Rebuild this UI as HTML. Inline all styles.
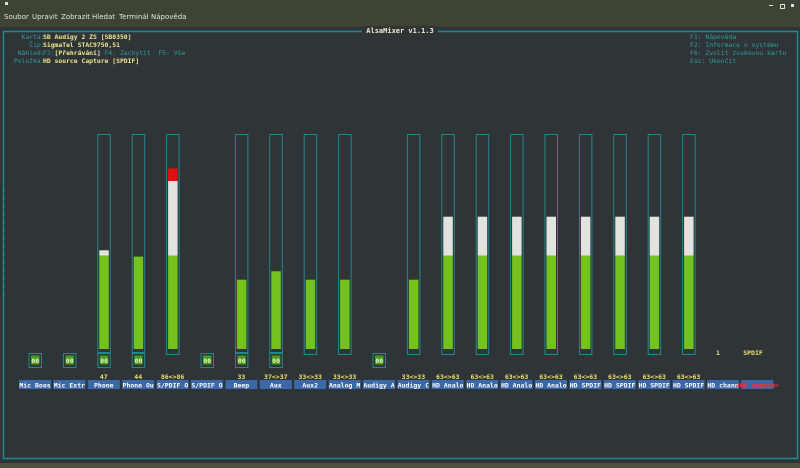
<!DOCTYPE html>
<html><head><meta charset="utf-8"><style>
body{margin:0;width:800px;height:468px;overflow:hidden;background:#4d5240;font-family:"DejaVu Sans Mono","Liberation Mono",monospace;}
#top{position:absolute;left:0;top:0;width:800px;height:27px;background:#3f4334;}
.menu{position:absolute;top:13px;font:7px "DejaVu Sans","Liberation Sans",sans-serif;color:#e4e4dc;white-space:nowrap}
#term{position:absolute;left:0;top:27px;width:800px;height:436px;background:#2f3437;}
.t{position:absolute;font-size:6.4px;line-height:8px;white-space:pre;font-weight:bold}
svg text{font-family:"DejaVu Sans Mono","Liberation Mono",monospace;}
</style></head><body>
<div id="top">
<div style="position:absolute;left:5px;top:2px;width:3px;height:3px;background:#ddd"></div>
<span class="menu" style="left:4px">Soubor</span>
<span class="menu" style="left:32px">Upravit</span>
<span class="menu" style="left:61px">Zobrazit</span>
<span class="menu" style="left:92px">Hledat</span>
<span class="menu" style="left:119px">Terminál</span>
<span class="menu" style="left:151px">Nápověda</span>
<div style="position:absolute;left:769px;top:5px;width:4px;height:1px;background:#ddd"></div>
<div style="position:absolute;left:780px;top:4px;width:3px;height:3px;border:1px solid #ddd"></div>
<div style="position:absolute;left:791px;top:4px;width:3px;height:3px;background:#ddd"></div>
</div>
<div id="term"></div>
<svg id="mix" width="800" height="468" style="position:absolute;left:0;top:0">
<rect x="3.5" y="31.5" width="794" height="427" fill="none" stroke="#1f8a8a" stroke-width="1.5"/>
<rect x="362" y="26" width="76" height="9" fill="#2f3437"/>
<text x="400" y="33" font-size="7" font-weight="bold" fill="#f0ead0" text-anchor="middle">AlsaMixer v1.1.3</text>
<g id="ticks"></g><g id="cols"></g>
</svg>
<div class="t" style="left:10px;top:33px;color:#2aa0a0;font-weight:normal">   Karta:
     Čip:
  Náhled:
 Položka:</div>
<div class="t" style="left:43px;top:33px;color:#f0e68c">SB Audigy 2 ZS [SB0350]
SigmaTel STAC9750,51
<span style="color:#2aa0a0;font-weight:normal">F3:</span>[Přehrávání]<span style="color:#2aa0a0;font-weight:normal"> F4: Zachytit  F5: Vše</span>
HD source Capture [SPDIF]</div>
<div class="t" style="left:690px;top:33px;color:#2aa0a0;font-weight:normal">F1: Nápověda
F2: Informace o systému
F6: Zvolit zvukovou kartu
Esc: Ukončit</div>
<script>
const labels=["Mic Boos","Mic Extr","Phone","Phone Ou","S/PDIF O","S/PDIF O","Beep","Aux","Aux2","Analog M","Audigy A","Audigy C","HD Analo","HD Analo","HD Analo","HD Analo","HD SPDIF","HD SPDIF","HD SPDIF","HD SPDIF","HD chann","HD source"];
const values=[null,null,47,44,86,null,33,37,33,33,null,33,63,63,63,63,63,63,63,63,null,null];
const valueText=["","","47","44","86<>86","","33","37<>37","33<>33","33<>33","","33<>33","63<>63","63<>63","63<>63","63<>63","63<>63","63<>63","63<>63","63<>63","",""];
const hasMute=[1,1,1,1,0,1,1,1,0,0,1,0,0,0,0,0,0,0,0,0,0,0];
const NS="http://www.w3.org/2000/svg";
const g=document.getElementById('cols');
const BOT=349, SCALE=2.1, GREEN=44.5, WHITE=80;
const xc=i=>35+34.4*i;
const yv=v=>BOT-v*SCALE;
function mk(t,a,p){const e=document.createElementNS(NS,t);for(const k in a)e.setAttribute(k,a[k]);(p||g).appendChild(e);return e;}
const tk=document.getElementById('ticks');
for(let y=191;y<=299;y+=8){const e=mk('rect',{x:3,y:y,width:2,height:1,fill:'#1f8a8a'},tk);

}
labels.forEach((l,i)=>{
 const c=xc(i);
 if(values[i]!==null){
  const v=values[i];
  const box=mk('rect',{x:c-6,y:134.5,width:12.5,height:(hasMute[i]?218:220),fill:'none',stroke:'#1f8a8a','stroke-width':1});
  
  
  const gEnd=Math.min(v,GREEN), wEnd=Math.min(v,WHITE);
  const gb=mk('rect',{x:c-4.5,y:yv(gEnd),width:9.5,height:gEnd*SCALE,fill:'#73c21e'});
  
  
  if(v>GREEN){const wb=mk('rect',{x:c-4.5,y:yv(wEnd),width:9.5,height:(wEnd-GREEN)*SCALE,fill:'#e2e2de'});
   
   }
  if(v>WHITE){const rb=mk('rect',{x:c-4.5,y:yv(v),width:9.5,height:(v-WHITE)*SCALE,fill:'#e01010'});
   
   }
 }
 if(hasMute[i]){
  const mb=mk('rect',{x:c-6,y:353.5,width:12.5,height:14,fill:'none',stroke:'#1f8a8a','stroke-width':1});
  
  
  const mi=mk('rect',{x:c-4,y:355.5,width:8.5,height:9,fill:'#4c9a1a'});
  
  
  const mt=mk('text',{x:c+0.3,y:363,'font-size':6.5,'font-weight':'bold',fill:'#eaf5d0','text-anchor':'middle'});
  mt.textContent='00';
  
  
 }
 if(valueText[i]){
  const vt=mk('text',{x:c,y:379,'font-size':6.5,'font-weight':'bold',fill:'#f0e06c','text-anchor':'middle'});
  vt.textContent=valueText[i];
  
  
 }
 const sel=(i===labels.length-1);
 const lb=mk('rect',{x:c-16,y:380,width:32,height:9,fill:'#3b68a8'});
 
 
 const lt=mk('text',{x:c,y:387.5,'font-size':6.5,'font-weight':'bold',fill:sel?'#ff3030':'#ffffff','text-anchor':'middle'});
 lt.textContent=sel?'<'+l+'>':l;
 
 
});
const e1=mk('text',{x:718,y:355,'font-size':6.5,'font-weight':'bold',fill:'#f0e06c','text-anchor':'middle'});e1.textContent='1';


const e2=mk('text',{x:753,y:355,'font-size':6.5,'font-weight':'bold',fill:'#f0e06c','text-anchor':'middle'});e2.textContent='SPDIF';


</script>
</body></html>
